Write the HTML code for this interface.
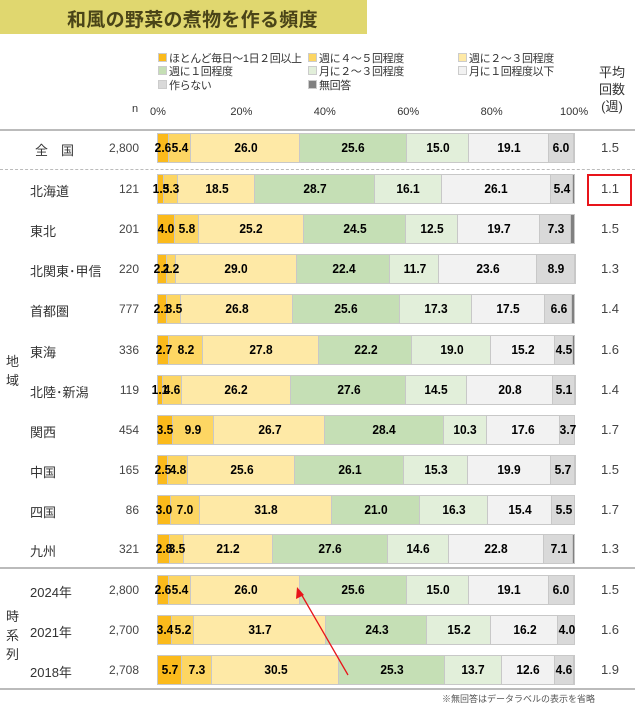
<!DOCTYPE html>
<html><head><meta charset="utf-8"><style>
body{margin:0;width:635px;height:711px;background:#fff;position:relative;overflow:hidden;font-family:"Liberation Sans","Noto Sans CJK JP",sans-serif;color:#333}
.a{position:absolute;white-space:nowrap}
.seg{position:absolute;box-sizing:border-box;border:1px solid #c8c8c8;border-left:none}
.lbl{position:absolute;font-weight:bold;font-size:13px;color:#000;transform:translateX(-50%) scaleX(0.92);line-height:15px}
.lg{position:absolute;font-size:11px;color:#333;white-space:nowrap;line-height:13px;letter-spacing:-0.4px}
.lg i{display:inline-block;width:7px;height:7px;margin-right:2px;border:1px solid #ccc;vertical-align:0}
</style></head><body>
<div class="a" style="left:0;top:0;width:367px;height:34px;background:#e0d76f"></div>
<div class="a" style="left:67px;top:5px;width:236px;text-align:center;font-size:19px;font-weight:bold;color:#4a4418;letter-spacing:0.3px">和風の野菜の煮物を作る頻度</div>
<div class="lg" style="left:158px;top:53px"><i style="background:#fbba1b"></i>ほとんど毎日～1日２回以上</div>
<div class="lg" style="left:308px;top:53px"><i style="background:#fdd663"></i>週に４～５回程度</div>
<div class="lg" style="left:458px;top:53px"><i style="background:#fee9a6"></i>週に２～３回程度</div>
<div class="lg" style="left:158px;top:66px"><i style="background:#c5dfb5"></i>週に１回程度</div>
<div class="lg" style="left:308px;top:66px"><i style="background:#e2efda"></i>月に２～３回程度</div>
<div class="lg" style="left:458px;top:66px"><i style="background:#f2f2f2"></i>月に１回程度以下</div>
<div class="lg" style="left:158px;top:80px"><i style="background:#d9d9d9"></i>作らない</div>
<div class="lg" style="left:308px;top:80px"><i style="background:#808080"></i>無回答</div>
<div class="a" style="left:597px;top:64px;font-size:13px;line-height:17px;width:30px;text-align:center">平均<br>回数<br>(週)</div>
<div class="a" style="left:132px;top:103px;font-size:11px">n</div>
<div id="ax"></div>
<div class="a" style="left:0;top:129px;width:635px;height:2px;background:#bbb"></div>
<div class="a" style="left:0;top:169px;width:635px;border-top:1px dashed #bbb"></div>
<div class="a" style="left:0;top:567px;width:635px;height:2px;background:#bbb"></div>
<div class="a" style="left:0;top:688px;width:635px;height:2px;background:#bbb"></div>
<div class="a" style="left:6px;top:352px;font-size:13px;line-height:19px">地<br>域</div>
<div class="a" style="left:6px;top:607px;font-size:13px;line-height:19px">時<br>系<br>列</div>
<div class="a" style="left:587px;top:174px;width:41px;height:28px;border:2px solid #e8141a"></div>
<div class="a" style="left:442px;top:692px;font-size:9px;color:#555">※無回答はデータラベルの表示を省略</div>
<div id="c"></div>
<svg class="a" style="left:0;top:0" width="635" height="711"><line x1="348" y1="675" x2="300" y2="592" stroke="#e8141a" stroke-width="1.3"/><polygon points="297,587 296,599 304,595" fill="#e8141a"/></svg>
<script>
var ax=document.getElementById('ax'),h='';
for(var k=0;k<=5;k++){var x=158+k*83.4;h+='<div class="a" style="left:'+(x-(k==0?8:11)-(k==5?4:0))+'px;top:106px;font-size:11px">'+(k*20)+'%</div>';}
ax.innerHTML=h;
var cols=['#fbba1b','#fdd663','#fee9a6','#c5dfb5','#e2efda','#f2f2f2','#d9d9d9','#808080'];
var rows=[
['全　国','2,800',[2.6,5.4,26.0,25.6,15.0,19.1,6.0],'1.5',148,35],
['北海道','121',[1.5,3.3,18.5,28.7,16.1,26.1,5.4],'1.1',189,30],
['東北','201',[4.0,5.8,25.2,24.5,12.5,19.7,7.3],'1.5',229,30],
['北関東･甲信','220',[2.1,2.2,29.0,22.4,11.7,23.6,8.9],'1.3',269,30],
['首都圏','777',[2.1,3.5,26.8,25.6,17.3,17.5,6.6],'1.4',309,30],
['東海','336',[2.7,8.2,27.8,22.2,19.0,15.2,4.5],'1.6',350,30],
['北陸･新潟','119',[1.1,4.6,26.2,27.6,14.5,20.8,5.1],'1.4',390,30],
['関西','454',[3.5,9.9,26.7,28.4,10.3,17.6,3.7],'1.7',430,30],
['中国','165',[2.5,4.8,25.6,26.1,15.3,19.9,5.7],'1.5',470,30],
['四国','86',[3.0,7.0,31.8,21.0,16.3,15.4,5.5],'1.7',510,30],
['九州','321',[2.8,3.5,21.2,27.6,14.6,22.8,7.1],'1.3',549,30],
['2024年','2,800',[2.6,5.4,26.0,25.6,15.0,19.1,6.0],'1.5',590,30],
['2021年','2,700',[3.4,5.2,31.7,24.3,15.2,16.2,4.0],'1.6',630,30],
['2018年','2,708',[5.7,7.3,30.5,25.3,13.7,12.6,4.6],'1.9',670,30]];
var W=417,X0=158,o='',L='';
rows.forEach(function(r){var cy=r[4],t=cy-15,s=0;
o+='<div class="a" style="left:'+r[5]+'px;top:'+(cy-8)+'px;font-size:13px">'+r[0]+'</div>';
o+='<div class="a" style="left:80px;width:59px;text-align:right;top:'+(cy-7)+'px;font-size:12px;color:#444">'+r[1]+'</div>';
o+='<div class="a" style="left:592px;width:36px;text-align:center;top:'+(cy-8)+'px;font-size:13px;color:#444">'+r[3]+'</div>';
var v=r[2].slice();var sum=v.reduce(function(a,b){return a+b},0);v.push(Math.max(0,100-sum));
o+='<div class="a" style="left:'+(X0-1)+'px;top:'+t+'px;width:1px;height:30px;background:#c8c8c8"></div>';
v.forEach(function(p,i){var x=X0+s*W/100,w=p*W/100;s+=p;if(w<=0)return;
o+='<div class="seg" style="left:'+x+'px;top:'+t+'px;width:'+w+'px;height:30px;background:'+cols[i]+'"></div>';
if(i<7)L+='<div class="lbl" style="left:'+(x+w/2)+'px;top:'+(cy-8)+'px">'+p.toFixed(1)+'</div>';});
});
document.getElementById('c').innerHTML=o+L;
</script>
</body></html>
